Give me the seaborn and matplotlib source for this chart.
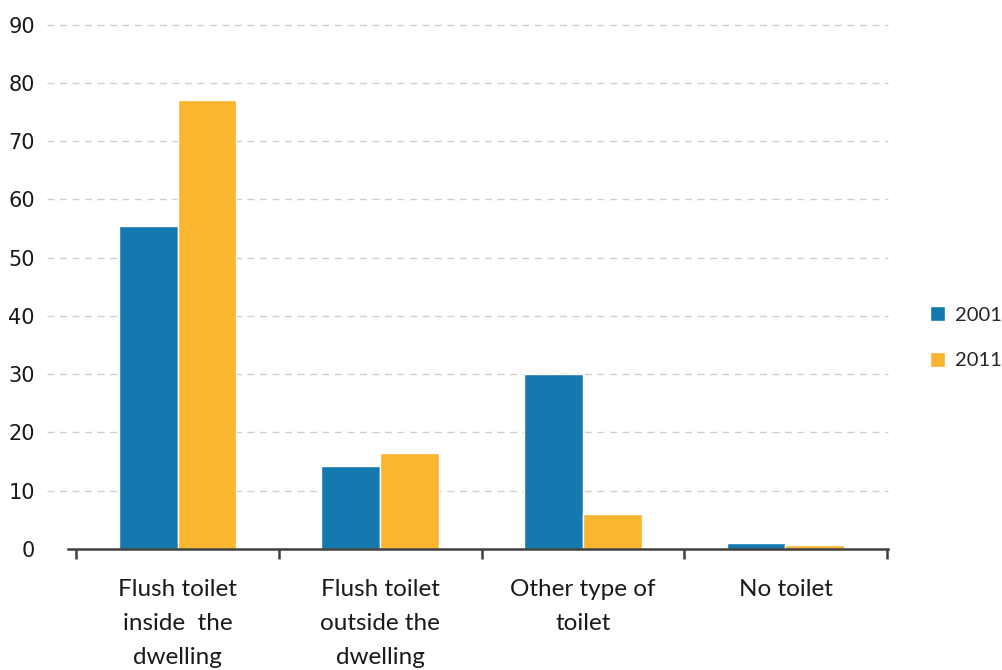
import matplotlib
matplotlib.use("Agg")
import matplotlib.pyplot as plt
from matplotlib.lines import Line2D
from matplotlib.patches import Patch
import seaborn as sns
import pandas as pd

categories = [
    "Flush toilet\ninside  the\ndwelling",
    "Flush toilet\noutside the\ndwelling",
    "Other type of\ntoilet",
    "No toilet",
]
years = ["2001", "2011"]
values_2001 = [55.4, 14.2, 30.0, 1.0]
values_2011 = [77.0, 16.5, 6.0, 0.6]
colors = ["#1479AE", "#FBB52F"]

df = pd.DataFrame(
    {
        "category": categories * 2,
        "year": [years[0]] * 4 + [years[1]] * 4,
        "value": values_2001 + values_2011,
    }
)

sns.set_style("white")
plt.rcParams["font.family"] = ["DejaVu Sans"]

fig = plt.figure(figsize=(10.02, 6.70), dpi=100)
ax = fig.add_axes([0.068, 0.181, 0.818, 0.782])

sns.barplot(
    data=df,
    x="category",
    y="value",
    hue="year",
    palette=colors,
    width=0.58,
    saturation=1,
    ax=ax,
    legend=False,
)

ax.set_ylim(0, 90)
ax.set_xlim(-0.54, 3.505)
ax.set_yticks(range(0, 91, 10))
ax.set_xlabel("")
ax.set_ylabel("")

# dashed grid lines, extending a bit left of the axis like the original
for yv in range(10, 91, 10):
    ax.add_line(
        Line2D(
            [-0.026, 1.0],
            [yv, yv],
            transform=ax.get_yaxis_transform(),
            color="#D0D0D0",
            linestyle=(0, (5, 4)),
            linewidth=1,
            clip_on=False,
            zorder=0,
        )
    )

for side in ["left", "right", "top"]:
    ax.spines[side].set_visible(False)
ax.spines["bottom"].set_color("#404040")
ax.spines["bottom"].set_linewidth(1.8)

# category boundary ticks
ax.set_xticks(range(4))
ax.set_xticks([-0.5, 0.5, 1.5, 2.5, 3.5], minor=True)
ax.tick_params(axis="x", which="minor", bottom=True, length=7, width=1.8,
               color="#404040", direction="out")
ax.tick_params(axis="x", which="major", bottom=False, length=0, pad=22)
ax.set_xticklabels(categories, fontsize=17.5, family=["Lato", "DejaVu Sans"],
                   linespacing=1.75, color="#1a1a1a")
ax.tick_params(axis="y", length=0, pad=24, labelsize=15, labelcolor="#1a1a1a")

handles = [Patch(facecolor=c, label=y) for c, y in zip(colors, years)]
fig.legend(
    handles=handles,
    loc="center left",
    bbox_to_anchor=(0.928, 0.496),
    frameon=False,
    prop={"family": ["Lato", "DejaVu Sans"], "size": 14.5},
    handlelength=0.75,
    handleheight=0.75,
    handletextpad=0.5,
    labelspacing=1.4,
    borderpad=0,
    borderaxespad=0,
)

fig.savefig("out.png", dpi=100)
